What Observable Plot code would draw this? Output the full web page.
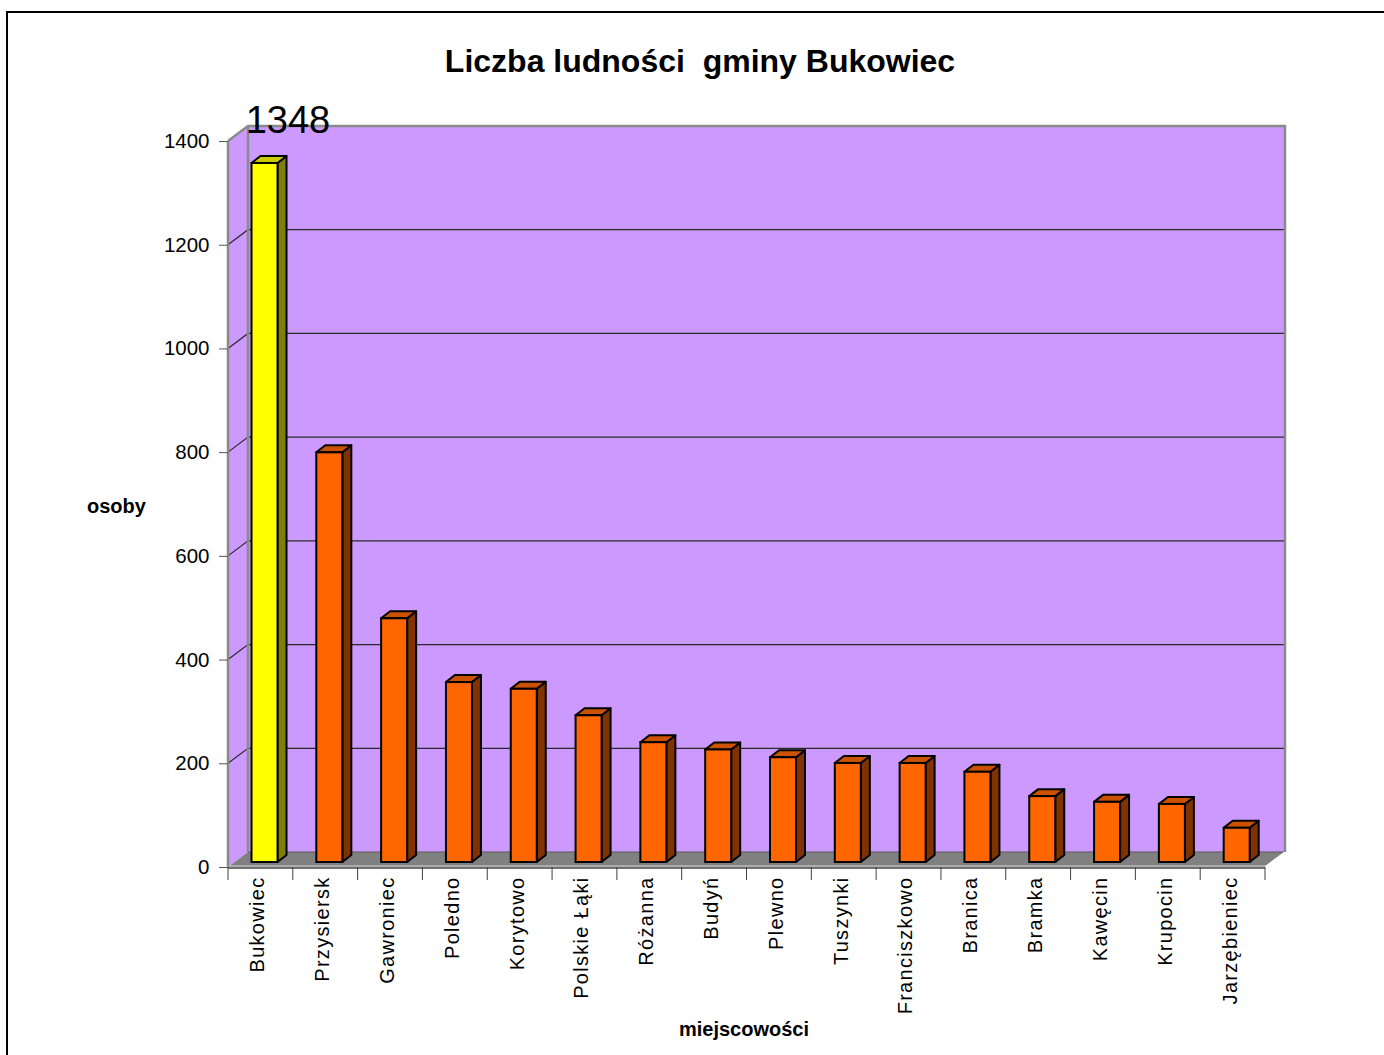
<!DOCTYPE html>
<html>
<head>
<meta charset="utf-8">
<script src="https://cdn.jsdelivr.net/npm/d3@7"></script>
<script src="https://cdn.jsdelivr.net/npm/@observablehq/plot@0.6"></script>
<style>
  body { margin: 0; background: #fff; font-family: "Liberation Sans", Arial, sans-serif; }
  #wrap { position: relative; width: 1384px; height: 1055px; overflow: hidden; background: #fff; }
  #frame { position: absolute; left: 6px; top: 11px; width: 1420px; height: 1100px; border: 2px solid #000; box-sizing: border-box; }
  .lbl { position: absolute; font-weight: bold; line-height: 1; white-space: nowrap; color: #000; }
  #title { left: 0; width: 1400px; text-align: center; top: 45px; font-size: 32px; }
  #ylab { left: 87px; top: 496px; font-size: 20px; }
  #xlab { left: 0; width: 1488px; text-align: center; top: 1019px; font-size: 20px; }
  #chart { position: absolute; left: 0; top: 0; }
  #chart svg [aria-label="x-axis tick label"] text { letter-spacing: 1.3px; }
</style>
</head>
<body>
<div id="wrap">
  <div id="frame"></div>
  <div id="chart"></div>
  <div class="lbl" id="title">Liczba ludności&nbsp; gminy Bukowiec</div>
  <div class="lbl" id="ylab">osoby</div>
  <div class="lbl" id="xlab">miejscowości</div>
</div>
<script>
// ---- data ----
const places = ["Bukowiec", "Przysiersk", "Gawroniec", "Poledno", "Korytowo", "Polskie Łąki", "Różanna", "Budyń", "Plewno", "Tuszynki", "Franciszkowo", "Branica", "Bramka", "Kawęcin", "Krupocin", "Jarzębieniec"];
const population = [1348, 790, 470, 347, 334, 283, 231, 217, 202, 191, 191, 174, 127, 116, 112, 66];
const yTicks = [0, 200, 400, 600, 800, 1000, 1200, 1400];
const highlighted = "Bukowiec";

const data = places.map((p, i) => ({place: p, value: population[i]}));

// ---- 3D styling (pixels) ----
const DX = 20, DY = 15;          // depth of the chart box
const BAR_OFF = 23.5, BAR_W = 26; // front face position inside band
const BDX = 9, BDY = 7;          // depth of each bar
const BAR_LIFT = 5;              // bars stand in the middle of the floor

const faces = {
  normal: {front: "#FF6600", side: "#803300", top: "#CC5200"},
  high:   {front: "#FFFF00", side: "#808000", top: "#CCCC00"}
};

function box3d(index, scales) {
  const {x, y} = scales;
  const g = d3.create("svg:g");
  const bw = x.bandwidth();
  const xL = x(places[0]);
  const xR = x(places[places.length - 1]) + bw;
  const y0 = y(0), yTop = y(yTicks[yTicks.length - 1]);
  g.append("polygon").attr("points", [[xL, yTop], [xL + DX, yTop - DY], [xL + DX, y0 - DY], [xL, y0]].join(" "))
    .attr("fill", "#CC99FF");
  g.append("rect").attr("x", xL + DX).attr("y", yTop - DY).attr("width", xR - xL).attr("height", y0 - yTop)
    .attr("fill", "#CC99FF");
  for (const v of yTicks.slice(1, -1)) {
    g.append("polyline").attr("points", [[xL, y(v)], [xL + DX, y(v) - DY], [xR + DX, y(v) - DY]].join(" "))
      .attr("fill", "none").attr("stroke", "#2a2a2a").attr("stroke-width", 1.2);
  }
  g.append("polygon").attr("points", [[xL, y0], [xL + DX, y0 - DY], [xR + DX, y0 - DY], [xR, y0]].join(" "))
    .attr("fill", "#808080");
  g.append("line").attr("x1", xL + DX).attr("x2", xR + DX).attr("y1", y0 - DY).attr("y2", y0 - DY)
    .attr("stroke", "#5a5a5a").attr("stroke-width", 1);
  g.append("line").attr("x1", xR).attr("y1", y0).attr("x2", xR + DX).attr("y2", y0 - DY)
    .attr("stroke", "#fff").attr("stroke-width", 1.5);
  g.append("line").attr("x1", xL).attr("x2", xR).attr("y1", y0 - 1).attr("y2", y0 - 1)
    .attr("stroke", "#d8d8d8").attr("stroke-width", 1);
  g.append("polyline").attr("points", [[xL, yTop], [xL + DX, yTop - DY], [xR + DX, yTop - DY], [xR + DX, y0 - DY]].join(" "))
    .attr("fill", "none").attr("stroke", "#8a8a8a").attr("stroke-width", 2.5);
  g.append("line").attr("x1", xL + DX).attr("x2", xL + DX).attr("y1", yTop - DY).attr("y2", y0 - DY)
    .attr("stroke", "#8a8a8a").attr("stroke-width", 2.5);
  g.append("line").attr("x1", xL).attr("x2", xL).attr("y1", yTop).attr("y2", y0)
    .attr("stroke", "#8a8a8a").attr("stroke-width", 2.5);
  g.append("line").attr("x1", xL).attr("x2", xR).attr("y1", y0 + 1).attr("y2", y0 + 1)
    .attr("stroke", "#404040").attr("stroke-width", 1.5);
  for (let i = 0; i <= places.length; i++) {
    const xx = i < places.length ? x(places[i]) : xR;
    g.append("line").attr("x1", xx).attr("x2", xx).attr("y1", y0).attr("y2", y0 + 13)
      .attr("stroke", "#404040").attr("stroke-width", 1);
  }
  return g.node();
}

function bars3d(index, scales) {
  const {x, y} = scales;
  const g = d3.create("svg:g").attr("stroke", "#000").attr("stroke-width", 2).attr("stroke-linejoin", "round");
  for (const d of data) {
    const c = d.place === highlighted ? faces.high : faces.normal;
    const x0 = x(d.place) + BAR_OFF, x1 = x0 + BAR_W;
    const yt = y(d.value) - BAR_LIFT, yb = y(0) - BAR_LIFT;
    g.append("polygon").attr("fill", c.side)
      .attr("points", [[x1, yb], [x1 + BDX, yb - BDY], [x1 + BDX, yt - BDY], [x1, yt]].join(" "));
    g.append("polygon").attr("fill", c.top)
      .attr("points", [[x0, yt], [x0 + BDX, yt - BDY], [x1 + BDX, yt - BDY], [x1, yt]].join(" "));
  }
  return g.node();
}

const chart = Plot.plot({
  width: 1384,
  height: 1055,
  marginLeft: 228,
  marginRight: 119,
  marginTop: 141,
  marginBottom: 188,
  style: {fontFamily: "'Liberation Sans', Arial, sans-serif", background: "transparent", overflow: "visible"},
  x: {type: "band", domain: places, padding: 0, round: false, inset: 0},
  y: {domain: [0, 1400], inset: 0},
  marks: [
    box3d,
    Plot.axisY({ticks: yTicks, tickFormat: d => String(d), tickSize: 9, tickPadding: 10, fontSize: 20.5, label: null, stroke: "#555", color: "#000"}),
    Plot.axisX({tickRotate: -90, tickSize: 0, tickPadding: 9, fontSize: 20, label: null, dx: -3}),
    bars3d,
    Plot.barY(data, {
      x: "place", y: "value",
      fill: d => d.place === highlighted ? faces.high.front : faces.normal.front,
      stroke: "#000", strokeWidth: 2,
      insetLeft: BAR_OFF, insetRight: 64.8 - BAR_OFF - BAR_W,
      dy: -BAR_LIFT
    }),
    Plot.text(data.filter(d => d.place === highlighted), {
      x: "place", y: "value", text: d => String(d.value),
      fontSize: 38, fill: "#000", textAnchor: "middle", lineAnchor: "bottom", dx: 27, dy: -35
    })
  ]
});
document.getElementById("chart").append(chart);
</script>
</body>
</html>
